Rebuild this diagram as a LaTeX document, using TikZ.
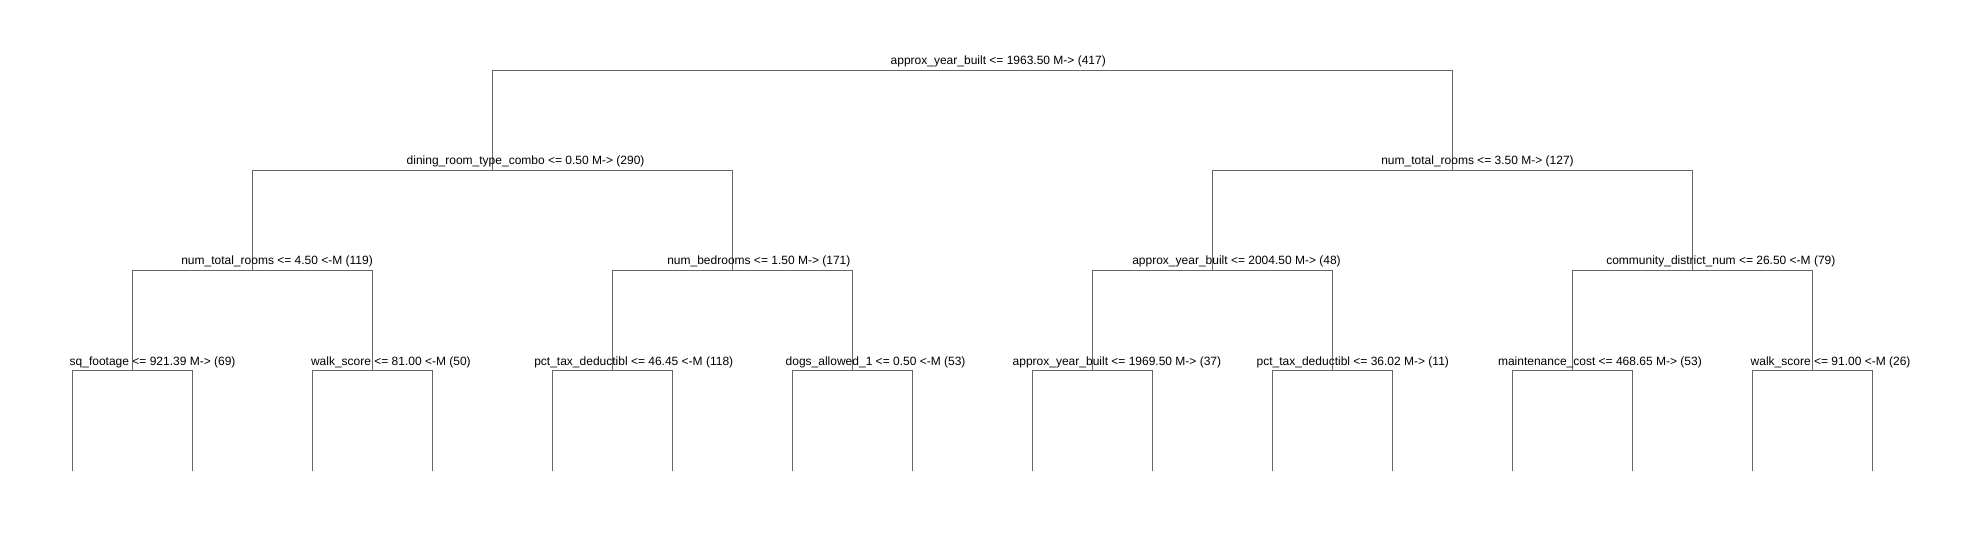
\documentclass[tikz,border=0pt]{standalone}
\usepackage{fontspec}
\setmainfont{Liberation Sans}
\definecolor{edgegray}{HTML}{666666}
\tikzset{
  lbl/.style={anchor=base west, inner sep=0pt, outer sep=0pt, font=\fontsize{12}{14}\selectfont, text=black},
  edgeline/.style={draw=edgegray, line width=1pt}
}
\begin{document}
\begin{tikzpicture}[x=1pt,y=-1pt]
\useasboundingbox (0,0) rectangle (1981,540);
\fill[white] (0,0) rectangle (1981,540);
% split points
\coordinate (r) at (972.5,70.5);
\coordinate (a) at (492.5,170.5);
\coordinate (b) at (1452.5,170.5);
\coordinate (aa) at (252.5,270.5);
\coordinate (ab) at (732.5,270.5);
\coordinate (ba) at (1212.5,270.5);
\coordinate (bb) at (1692.5,270.5);
\coordinate (aaa) at (132.5,370.5);
\coordinate (aab) at (372.5,370.5);
\coordinate (aba) at (612.5,370.5);
\coordinate (abb) at (852.5,370.5);
\coordinate (baa) at (1092.5,370.5);
\coordinate (bab) at (1332.5,370.5);
\coordinate (bba) at (1572.5,370.5);
\coordinate (bbb) at (1812.5,370.5);
\foreach \k in {0,...,15} \coordinate (l\k) at ({72.5+120*\k},470.5);
% connectors
\draw[edgeline] (a) |- (r) -| (b);
\draw[edgeline] (aa) |- (a) -| (ab);
\draw[edgeline] (ba) |- (b) -| (bb);
\draw[edgeline] (aaa) |- (aa) -| (aab);
\draw[edgeline] (aba) |- (ab) -| (abb);
\draw[edgeline] (baa) |- (ba) -| (bab);
\draw[edgeline] (bba) |- (bb) -| (bbb);
\draw[edgeline] (l0) |- (aaa) -| (l1);
\draw[edgeline] (l2) |- (aab) -| (l3);
\draw[edgeline] (l4) |- (aba) -| (l5);
\draw[edgeline] (l6) |- (abb) -| (l7);
\draw[edgeline] (l8) |- (baa) -| (l9);
\draw[edgeline] (l10) |- (bab) -| (l11);
\draw[edgeline] (l12) |- (bba) -| (l13);
\draw[edgeline] (l14) |- (bbb) -| (l15);
% labels
\node[lbl] (tr) at (890.7,65) {approx\_year\_built <= 1963.50 M-> (417)};
\node[lbl] (ta) at (406.7,165) {dining\_room\_type\_combo <= 0.50 M-> (290)};
\node[lbl] (tb) at (1381.3,165) {num\_total\_rooms <= 3.50 M-> (127)};
\node[lbl] (taa) at (181.3,265) {num\_total\_rooms <= 4.50 <-M (119)};
\node[lbl] (tab) at (667.3,265) {num\_bedrooms <= 1.50 M-> (171)};
\node[lbl] (tba) at (1132.3,265) {approx\_year\_built <= 2004.50 M-> (48)};
\node[lbl] (tbb) at (1606.3,265) {community\_district\_num <= 26.50 <-M (79)};
\node[lbl] (taaa) at (69.7,365) {sq\_footage <= 921.39 M-> (69)};
\node[lbl] (taab) at (311,365) {walk\_score <= 81.00 <-M (50)};
\node[lbl] (taba) at (534.3,365) {pct\_tax\_deductibl <= 46.45 <-M (118)};
\node[lbl] (tabb) at (785.7,365) {dogs\_allowed\_1 <= 0.50 <-M (53)};
\node[lbl] (tbaa) at (1012.7,365) {approx\_year\_built <= 1969.50 M-> (37)};
\node[lbl] (tbab) at (1256.7,365) {pct\_tax\_deductibl <= 36.02 M-> (11)};
\node[lbl] (tbba) at (1498,365) {maintenance\_cost <= 468.65 M-> (53)};
\node[lbl] (tbbb) at (1750.7,365) {walk\_score <= 91.00 <-M (26)};
\end{tikzpicture}
\end{document}
